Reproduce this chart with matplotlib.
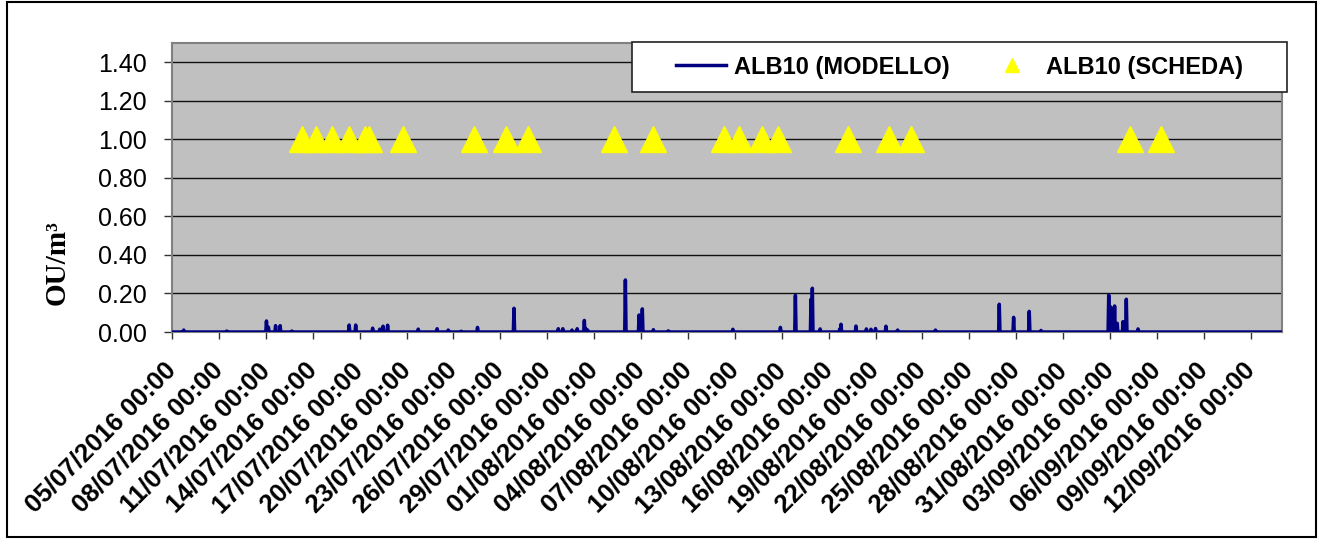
import numpy as np
import pandas as pd
import matplotlib
matplotlib.use("Agg")
import matplotlib.pyplot as plt
import matplotlib.dates as mdates
from matplotlib.ticker import FormatStrFormatter, FixedLocator
from matplotlib.patches import Rectangle

# Dati
inizio = "2016-07-05 00:00"
fine = "2016-09-14 00:00"

# ALB10 (MODELLO): valori orari, zero salvo i picchi qui sotto
modello_ore = [
    "2016-07-05 18:00", "2016-07-08 12:00", "2016-07-11 01:00", "2016-07-11 04:00",
    "2016-07-11 15:00", "2016-07-11 22:00", "2016-07-12 16:00", "2016-07-16 08:00",
    "2016-07-16 18:00", "2016-07-17 20:00", "2016-07-18 07:00", "2016-07-18 12:00",
    "2016-07-18 19:00", "2016-07-20 18:00", "2016-07-21 23:00", "2016-07-22 16:00",
    "2016-07-23 12:00", "2016-07-24 13:00", "2016-07-26 21:00", "2016-07-29 17:00",
    "2016-07-30 00:00", "2016-07-30 14:00", "2016-07-30 22:00", "2016-07-31 09:00",
    "2016-07-31 12:00", "2016-07-31 14:00", "2016-08-03 00:00", "2016-08-03 21:00",
    "2016-08-04 02:00", "2016-08-04 19:00", "2016-08-05 18:00", "2016-08-09 21:00",
    "2016-08-12 22:00", "2016-08-13 21:00", "2016-08-14 21:00", "2016-08-14 23:00",
    "2016-08-15 11:00", "2016-08-16 17:00", "2016-08-16 19:00", "2016-08-17 18:00",
    "2016-08-18 10:00", "2016-08-18 17:00", "2016-08-19 00:00", "2016-08-19 16:00",
    "2016-08-20 10:00", "2016-08-22 20:00", "2016-08-26 22:00", "2016-08-27 20:00",
    "2016-08-28 20:00", "2016-08-29 14:00", "2016-09-02 22:00", "2016-09-03 01:00",
    "2016-09-03 07:00", "2016-09-03 11:00", "2016-09-03 20:00", "2016-09-04 01:00",
    "2016-09-04 19:00",
]
modello_valori = [
    0.010, 0.005, 0.057, 0.025,
    0.033, 0.033, 0.005, 0.036,
    0.036, 0.020, 0.015, 0.030,
    0.035, 0.015, 0.017, 0.010,
    0.004, 0.024, 0.123, 0.017,
    0.017, 0.010, 0.017, 0.060,
    0.015, 0.010, 0.270, 0.088,
    0.120, 0.012, 0.006, 0.014,
    0.024, 0.190, 0.170, 0.227,
    0.016, 0.015, 0.040, 0.031,
    0.016, 0.014, 0.018, 0.030,
    0.010, 0.010, 0.144, 0.076,
    0.107, 0.008, 0.192, 0.130,
    0.135, 0.045, 0.054, 0.170,
    0.016,
]

# ALB10 (SCHEDA)
scheda_ore = [
    "2016-07-13 07:00", "2016-07-14 05:00", "2016-07-15 05:00", "2016-07-16 07:00",
    "2016-07-17 08:00", "2016-07-17 14:00", "2016-07-19 18:00", "2016-07-24 08:00",
    "2016-07-26 09:00", "2016-07-27 18:00", "2016-08-02 07:00", "2016-08-04 19:00",
    "2016-08-09 08:00", "2016-08-10 07:00", "2016-08-11 18:00", "2016-08-12 19:00",
    "2016-08-17 06:00", "2016-08-19 20:00", "2016-08-21 06:00", "2016-09-04 07:00",
    "2016-09-06 06:00",
]
scheda_valori = [1.0, 1.0, 1.0, 1.0, 1.0, 1.0, 1.0, 1.0, 1.0, 1.0, 1.0,
                 1.0, 1.0, 1.0, 1.0, 1.0, 1.0, 1.0, 1.0, 1.0, 1.0]

etichette_y = [0.0, 0.2, 0.4, 0.6, 0.8, 1.0, 1.2, 1.4]

plt.rcParams["font.family"] = ["Liberation Sans", "DejaVu Sans"]

W, H = 1320, 539
fig = plt.figure(figsize=(W / 100, H / 100), dpi=100)
ax = fig.add_axes([172 / W, 1 - 332 / H, (1282 - 172) / W, (332 - 43) / H])

# serie oraria del modello
serie = pd.Series(0.0, index=pd.date_range(inizio, fine, freq="h"))
serie[pd.to_datetime(modello_ore)] = modello_valori

ax.plot(serie.index, serie.values, color="#000080", lw=2.5,
        label="ALB10 (MODELLO)", zorder=3)
ax.plot(pd.to_datetime(scheda_ore), scheda_valori, ls="none", marker="^",
        ms=19, color="#FFFF00", mec="#FFFF00", label="ALB10 (SCHEDA)", zorder=4)

ax.set_facecolor("#C0C0C0")
ax.set_ylim(0, 1.5)
ax.set_yticks(etichette_y)
ax.yaxis.set_major_formatter(FormatStrFormatter("%.2f"))
ax.grid(axis="y", color="#111111", lw=1.0)
ax.set_axisbelow(True)

ax.set_xlim(pd.Timestamp(inizio), pd.Timestamp(fine))
tick_date = pd.date_range("2016-07-05", "2016-09-12", freq="3D")
ax.xaxis.set_major_locator(FixedLocator(mdates.date2num(tick_date)))
ax.xaxis.set_major_formatter(mdates.DateFormatter("%d/%m/%Y %H:%M"))

ax.tick_params(axis="y", direction="out", length=6, width=1, labelsize=18,
               pad=12, color="#333333")
ax.tick_params(axis="x", direction="out", length=5, width=1, labelsize=18.5,
               pad=20, color="#333333")
for lab in ax.get_xticklabels():
    lab.set_rotation(45)
    lab.set_ha("right")
    lab.set_va("center")
    lab.set_rotation_mode("anchor")
    lab.set_fontweight("bold")

for sp in ax.spines.values():
    sp.set_color("#808080")
    sp.set_linewidth(1.5)

fig.text(57 / W, 1 - 263 / H, "OU/m³", rotation=90, ha="center", va="center",
         family=["Liberation Serif", "DejaVu Serif"], weight="bold", size=21)

# riquadro legenda
fig.patches.append(Rectangle((632 / W, 1 - 92 / H), (1287 - 632) / W, 50 / H,
                             transform=fig.transFigure, facecolor="white",
                             edgecolor="#222222", lw=1.2, zorder=5))
leg = fig.legend(loc="center", bbox_to_anchor=((632 + 1287) / 2 / W, 1 - 67 / H),
                 ncol=2, frameon=False, prop={"weight": "bold", "size": 17},
                 handlelength=2.1, handletextpad=0.35, columnspacing=1.6,
                 markerscale=0.55)
leg.set_zorder(6)

# cornice esterna
fig.patches.append(Rectangle((7 / W, 2 / H), (1316 - 7) / W, (537 - 2) / H,
                             transform=fig.transFigure, fill=False,
                             edgecolor="black", lw=1.5, zorder=7))

fig.savefig("out.png", dpi=100)
